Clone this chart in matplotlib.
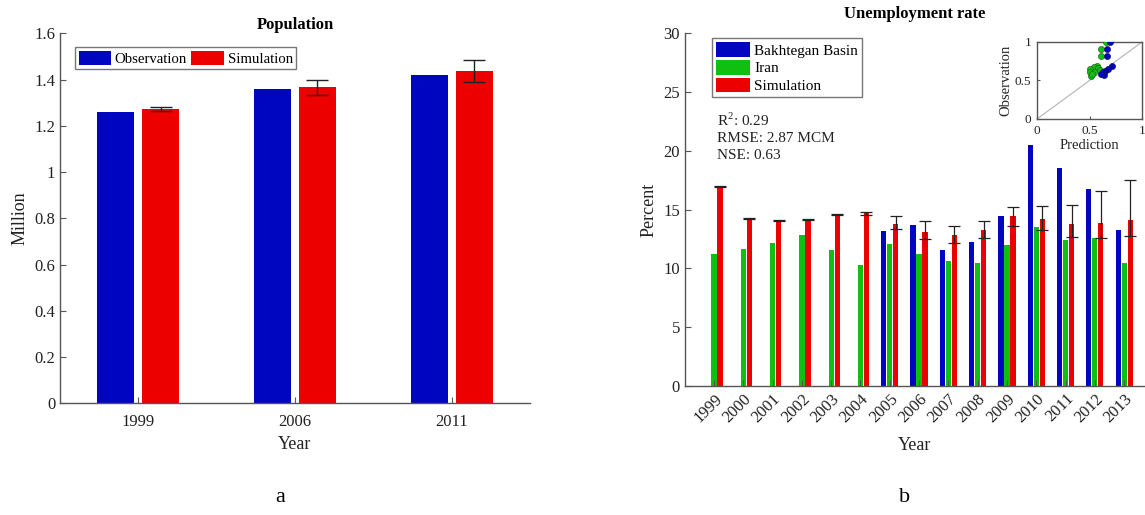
import numpy as np
import matplotlib
matplotlib.use("Agg")
import matplotlib.pyplot as plt

plt.rcParams['font.family'] = ['Liberation Serif', 'DejaVu Serif']
plt.rcParams['mathtext.fontset'] = 'custom'
plt.rcParams['mathtext.rm'] = 'Liberation Serif'

# Population (million)
pop_years = ['1999', '2006', '2011']
pop_obs = [1.261, 1.359, 1.418]
pop_sim = [1.274, 1.366, 1.438]
pop_err = [0.008, 0.032, 0.048]

# Unemployment rate (percent)
years = ['1999', '2000', '2001', '2002', '2003', '2004', '2005', '2006',
         '2007', '2008', '2009', '2010', '2011', '2012', '2013']
basin = [np.nan, np.nan, np.nan, np.nan, np.nan, np.nan,
         13.2, 13.71, 11.6, 12.21, 14.42, 20.5, 18.5, 16.71, 13.3]
iran = [11.19, 11.67, 12.12, 12.8, 11.56, 10.27, 12.1, 11.19,
        10.6, 10.48, 11.98, 13.51, 12.44, 12.61, 10.42]
sim = [16.97, 14.27, 14.1, 14.16, 14.56, 14.67, 13.8, 13.09,
       12.8, 13.26, 14.42, 14.22, 13.76, 13.85, 14.1]
sim_err_low = [0.05, 0.05, 0.05, 0.05, 0.05, 0.15, 0.43, 0.57,
               0.63, 0.65, 0.83, 0.93, 1.1, 1.24, 1.38]
sim_err_high = [0.05, 0.05, 0.05, 0.05, 0.05, 0.15, 0.64, 0.93,
                0.83, 0.76, 0.79, 1.05, 1.59, 2.69, 3.4]

# normalised prediction vs observation (inset)
basin_pred = [0.695, 0.67, 0.67, 0.71, 0.68, 0.648, 0.625, 0.64, 0.61]
basin_obs = [1.0, 0.91, 0.82, 0.69, 0.65, 0.62, 0.61, 0.57, 0.58]
iran_pred = [0.657, 0.607, 0.607, 0.568, 0.543, 0.584, 0.505, 0.543,
             0.505, 0.51, 0.6, 0.52]
iran_obs = [1.0, 0.91, 0.82, 0.69, 0.67, 0.66, 0.65, 0.61,
            0.61, 0.56, 0.64, 0.58]

BLUE = '#0005C0'
RED = '#EC0000'
GREEN = '#10C010'
ERR = '#222222'
SPINE = '#555555'
TXT = '#222222'


def style_axes(ax):
    for s in ['top', 'right']:
        ax.spines[s].set_visible(False)
    for s in ['left', 'bottom']:
        ax.spines[s].set_color(SPINE)
        ax.spines[s].set_linewidth(1.0)
    ax.tick_params(direction='in', colors=SPINE, labelcolor=TXT, labelsize=12,
                   length=4)


fig = plt.figure(figsize=(11.45, 5.15), dpi=100)

# ---- a: population
ax1 = fig.add_axes([0.0524, 0.2169, 0.4105, 0.7184])
x = np.arange(1, len(pop_years) + 1)
w = 0.236
off = 0.143
ax1.bar(x - off, pop_obs, w, color=BLUE, label='Observation')
ax1.bar(x + off, pop_sim, w, color=RED, label='Simulation')
ax1.errorbar(x + off, pop_sim, yerr=pop_err, fmt='none', ecolor=ERR,
             elinewidth=1, capsize=8, capthick=1)
ax1.set_xlim(0.5, 3.5)
ax1.set_ylim(0, 1.6)
ax1.set_xticks(x)
ax1.set_xticklabels(pop_years)
ax1.set_yticks(np.arange(0, 1.61, 0.2))
ax1.set_yticklabels(['0', '0.2', '0.4', '0.6', '0.8', '1', '1.2', '1.4', '1.6'])
style_axes(ax1)
ax1.tick_params(axis='x', pad=8)
ax1.set_xlabel('Year', fontsize=13, color=TXT, labelpad=4)
ax1.set_ylabel('Million', fontsize=13, color=TXT, labelpad=4)
ax1.set_title('Population', fontsize=12, fontweight='bold', pad=2)
leg1 = ax1.legend(loc='upper left', bbox_to_anchor=(0.032, 0.963), ncol=2,
                  fontsize=10.6, frameon=True, fancybox=False, edgecolor=SPINE,
                  handlelength=2.2, handleheight=1.1, handletextpad=0.25,
                  columnspacing=0.3, borderpad=0.25, borderaxespad=0)
leg1.get_frame().set_linewidth(1.0)

# ---- b: unemployment
ax2 = fig.add_axes([0.598, 0.2505, 0.4017, 0.6854])
xu = np.arange(1, len(years) + 1)
wu = 0.18
du = 0.205
ax2.bar(xu - du, basin, wu, color=BLUE, label='Bakhtegan Basin')
ax2.bar(xu, iran, wu, color=GREEN, label='Iran')
ax2.bar(xu + du, sim, wu, color=RED, label='Simulation')
ax2.errorbar(xu + du, sim, yerr=[sim_err_low, sim_err_high], fmt='none',
             ecolor=ERR, elinewidth=0.9, capsize=4, capthick=0.9)
ax2.set_xlim(0, 15.7)
ax2.set_ylim(0, 30)
ax2.set_xticks(xu)
ax2.set_xticklabels(years, rotation=45, ha='right', rotation_mode='anchor')
ax2.set_yticks(np.arange(0, 31, 5))
style_axes(ax2)
ax2.set_xlabel('Year', fontsize=13, color=TXT, labelpad=8)
ax2.set_ylabel('Percent', fontsize=13, color=TXT, labelpad=4)
ax2.set_title('Unemployment rate', fontsize=12, fontweight='bold', pad=11)
leg2 = ax2.legend(loc='upper left', bbox_to_anchor=(0.06, 0.985), ncol=1,
                  fontsize=11, frameon=True, fancybox=False, edgecolor=SPINE,
                  handlelength=2.2, handleheight=1.1, handletextpad=0.3,
                  labelspacing=0.15, borderpad=0.25, borderaxespad=0)
leg2.get_frame().set_linewidth(1.0)
ax2.text(0.07, 0.778,
         'R$^{\\mathregular{2}}$: 0.29\nRMSE: 2.87 MCM\nNSE: 0.63',
         transform=ax2.transAxes, fontsize=11, color=TXT, va='top',
         linespacing=1.35)

# inset scatter
ax3 = fig.add_axes([0.9057, 0.769, 0.0917, 0.1495])
ax3.plot([0, 1], [0, 1], color='#bbbbbb', lw=0.9)
ax3.scatter(iran_pred, iran_obs, s=20, color=GREEN, edgecolors='#225522',
            linewidths=0.4, zorder=3)
ax3.scatter(basin_pred, basin_obs, s=20, color=BLUE, edgecolors='#111155',
            linewidths=0.4, zorder=3)
ax3.set_xlim(0, 1)
ax3.set_ylim(0, 1)
ax3.set_xticks([0, 0.5, 1])
ax3.set_yticks([0, 0.5, 1])
ax3.set_xticklabels(['0', '0.5', '1'])
ax3.set_yticklabels(['0', '0.5', '1'])
for s in ax3.spines.values():
    s.set_color(SPINE)
    s.set_linewidth(1.0)
ax3.tick_params(direction='in', colors=SPINE, labelcolor=TXT, labelsize=9.5,
                length=2, pad=4)
ax3.set_xlabel('Prediction', fontsize=10.5, color=TXT, labelpad=2)
ax3.set_ylabel('Observation', fontsize=10.5, color=TXT, labelpad=2)

fig.text(0.2445, 0.015, 'a', fontsize=16, ha='center', va='bottom')
fig.text(0.790, 0.015, 'b', fontsize=16, ha='center', va='bottom')

fig.savefig('out.png', dpi=100)
